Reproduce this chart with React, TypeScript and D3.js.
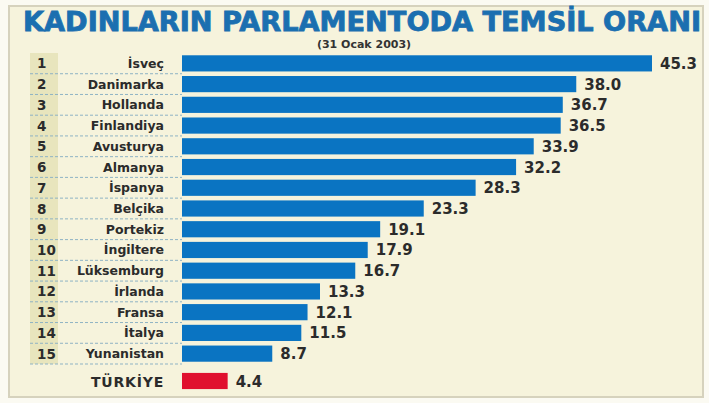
import React from "react";
import * as d3 from "d3";

const countries = ["İsveç", "Danimarka", "Hollanda", "Finlandiya", "Avusturya", "Almanya", "İspanya", "Belçika", "Portekiz", "İngiltere", "Lüksemburg", "İrlanda", "Fransa", "İtalya", "Yunanistan"];
const values = [45.3, 38.0, 36.7, 36.5, 33.9, 32.2, 28.3, 23.3, 19.1, 17.9, 16.7, 13.3, 12.1, 11.5, 8.7];
const turkeyLabel = "TÜRKİYE";
const turkeyValue = 4.4;
const title = "KADINLARIN PARLAMENTODA TEMSİL ORANI";
const subtitle = "(31 Ocak 2003)";

export default function App() {
  const W = 709, H = 403;
  const x = d3.scaleLinear().domain([0, 45.3]).range([182, 652]);
  const y = d3.scaleBand<string>().domain(countries).range([53, 364]).paddingInner(0.22).paddingOuter(0.11);
  const step = y.step();
  const bh = y.bandwidth();
  const turkeyY = 381 - bh / 2;
  const font = "'DejaVu Sans', sans-serif";
  return (
    <svg width={W} height={H} style={{ position: "absolute", left: 0, top: 0, display: "block" }}>
      <rect x={0} y={0} width={W} height={H} fill="#fbfaf2" />
      <rect x={9} y={6} width={694} height={391} fill="#f6f3dc" stroke="#d6d2bd" strokeWidth={2} />
      <text x={362} y={31} textAnchor="middle" fontFamily="'DejaVu Sans Condensed', 'DejaVu Sans', sans-serif" fontWeight="bold" fontSize={27} fill="#1b6fb0" stroke="#1b6fb0" strokeWidth={0.8} textLength={678} lengthAdjust="spacingAndGlyphs">{title}</text>
      <text x={364} y={48} textAnchor="middle" fontFamily={font} fontWeight="bold" fontSize={11} fill="#333">{subtitle}</text>
      <rect x={30} y={53} width={28} height={311} fill="#e8e5bd" />
      {countries.map((c, i) => {
        const yy = y(c)!;
        const lineY = yy - (step - bh) / 2 + step;
        return (
          <g key={c}>
            <line x1={30} x2={182} y1={lineY} y2={lineY} stroke="#8fb3c4" strokeWidth={1} strokeDasharray="3,2" />
            <text x={37} y={yy + bh / 2 + 5} fontFamily={font} fontWeight="bold" fontSize={13.5} fill="#2b2b2b">{i + 1}</text>
            <text x={164} y={yy + bh / 2 + 4.5} textAnchor="end" fontFamily={font} fontWeight="bold" fontSize={12.5} fill="#2b2b2b">{c}</text>
            <rect x={x(0)} y={yy} width={x(values[i]) - x(0)} height={bh} fill="#0a74c2" />
            <text x={x(values[i]) + 8} y={yy + bh / 2 + 5.5} fontFamily={font} fontWeight="bold" fontSize={15} fill="#2b2b2b">{values[i].toFixed(1)}</text>
          </g>
        );
      })}
      <text x={164} y={turkeyY + bh / 2 + 5.5} textAnchor="end" fontFamily={font} fontWeight="bold" fontSize={14} letterSpacing={0.8} fill="#2b2b2b">{turkeyLabel}</text>
      <rect x={x(0)} y={turkeyY} width={x(turkeyValue) - x(0)} height={bh} fill="#e0102e" />
      <text x={x(turkeyValue) + 8} y={turkeyY + bh / 2 + 5.5} fontFamily={font} fontWeight="bold" fontSize={15} fill="#2b2b2b">{turkeyValue.toFixed(1)}</text>
    </svg>
  );
}
